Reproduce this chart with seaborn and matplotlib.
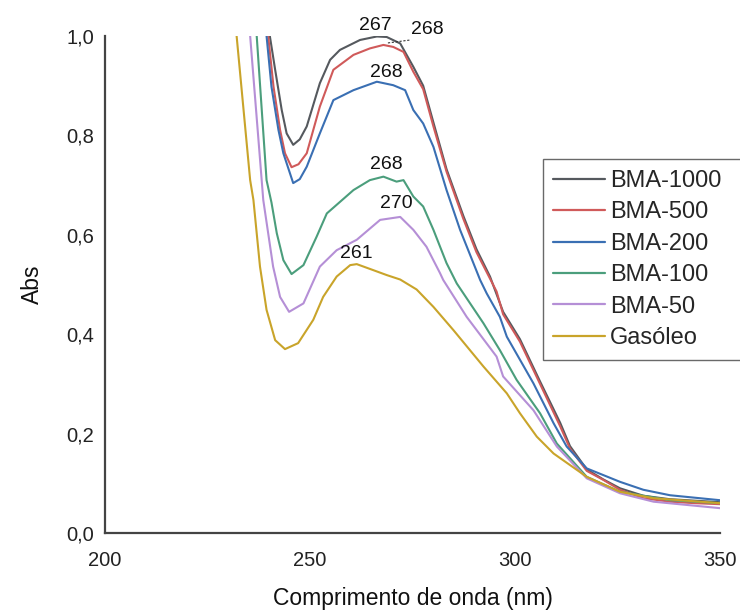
import matplotlib
matplotlib.use("Agg")
import matplotlib.pyplot as plt
from matplotlib.ticker import FuncFormatter, FixedLocator
import seaborn as sns
import pandas as pd

# UV-Vis absorbance spectra (wavelength in nm, absorbance)
wl_bma1000 = [239.9, 240.2, 241.5, 243.1, 244.3, 245.9, 247.5, 249.2, 252.4, 254.9, 257.3,
              262.2, 266.3, 268.7, 272.0, 275.2, 277.6, 280.1, 283.3, 287.4, 290.6, 293.9,
              297.1, 301.2, 306.1, 311.0, 313.4, 317.5, 321.5, 325.6, 331.3, 337.8, 344.0, 350.0]
abs_bma1000 = [1.05, 1.0, 0.932, 0.851, 0.804, 0.781, 0.792, 0.818, 0.905, 0.952, 0.972,
               0.992, 0.999, 0.998, 0.985, 0.938, 0.900, 0.826, 0.732, 0.638, 0.571, 0.516,
               0.445, 0.390, 0.305, 0.222, 0.175, 0.128, 0.108, 0.090, 0.075, 0.068, 0.065, 0.062]

wl_bma500 = [239.5, 239.8, 241.1, 242.7, 243.9, 245.5, 247.2, 249.2, 252.4, 255.7, 260.6,
             264.6, 267.9, 270.3, 272.8, 275.2, 277.6, 280.1, 283.3, 287.4, 290.6, 295.5,
             297.1, 301.2, 306.1, 311.0, 313.4, 317.5, 321.5, 325.6, 331.3, 337.8, 344.0, 350.0]
abs_bma500 = [1.05, 1.0, 0.898, 0.811, 0.764, 0.736, 0.742, 0.764, 0.858, 0.932, 0.962,
              0.975, 0.982, 0.978, 0.968, 0.928, 0.893, 0.818, 0.727, 0.632, 0.565, 0.486,
              0.440, 0.385, 0.300, 0.215, 0.170, 0.125, 0.107, 0.087, 0.070, 0.063, 0.060, 0.058]

wl_bma200 = [239.1, 239.4, 240.6, 242.3, 243.5, 244.7, 245.9, 247.5, 249.2, 252.4, 255.7,
             260.6, 266.3, 270.3, 273.2, 275.2, 277.6, 280.1, 283.3, 286.6, 291.5, 293.1,
             296.3, 298.0, 304.5, 309.4, 312.6, 317.5, 325.6, 331.3, 337.8, 350.0]
abs_bma200 = [1.05, 1.0, 0.898, 0.811, 0.764, 0.734, 0.704, 0.712, 0.737, 0.804, 0.871,
              0.891, 0.908, 0.901, 0.891, 0.851, 0.824, 0.777, 0.690, 0.610, 0.509, 0.482,
              0.435, 0.395, 0.301, 0.221, 0.174, 0.130, 0.103, 0.087, 0.076, 0.066]

wl_bma100 = [236.7, 237.0, 239.4, 240.6, 241.9, 243.5, 245.5, 248.4, 251.6, 254.1, 260.6,
             264.6, 267.9, 271.1, 272.8, 275.2, 277.6, 280.1, 283.3, 285.8, 292.3, 296.3,
             300.4, 306.1, 310.2, 317.5, 325.6, 337.8, 350.0]
abs_bma100 = [1.05, 1.0, 0.710, 0.665, 0.603, 0.549, 0.521, 0.539, 0.596, 0.643, 0.690,
              0.710, 0.717, 0.707, 0.710, 0.677, 0.657, 0.610, 0.543, 0.502, 0.422, 0.368,
              0.308, 0.241, 0.180, 0.113, 0.083, 0.066, 0.060]

wl_bma50 = [235.1, 235.4, 238.6, 241.0, 242.7, 244.9, 248.4, 252.4, 256.5, 261.4, 267.1,
            272.0, 275.2, 278.4, 281.7, 282.5, 288.2, 295.5, 297.1, 304.5, 310.2, 317.5,
            325.6, 333.8, 350.0]
abs_bma50 = [1.05, 1.0, 0.670, 0.536, 0.475, 0.445, 0.462, 0.536, 0.569, 0.590, 0.630,
             0.636, 0.610, 0.576, 0.523, 0.509, 0.435, 0.355, 0.315, 0.247, 0.174, 0.110,
             0.080, 0.063, 0.050]

wl_gasoleo = [231.8, 232.1, 235.4, 236.2, 237.8, 239.4, 241.5, 243.9, 247.1, 250.8, 253.2,
              256.5, 259.8, 261.4, 265.4, 268.7, 272.0, 276.0, 280.1, 285.0, 292.3, 298.0,
              301.2, 305.3, 309.4, 317.5, 325.6, 333.8, 350.0]
abs_gasoleo = [1.05, 1.0, 0.710, 0.670, 0.536, 0.449, 0.388, 0.370, 0.382, 0.429, 0.475,
               0.516, 0.539, 0.541, 0.529, 0.519, 0.510, 0.490, 0.455, 0.408, 0.335, 0.281,
               0.241, 0.194, 0.160, 0.113, 0.083, 0.070, 0.060]

series_names = ["BMA-1000", "BMA-500", "BMA-200", "BMA-100", "BMA-50", "Gasóleo"]
series_colors = ["#55595e", "#d05a5a", "#3a6fb3", "#4b9e7c", "#b58fd6", "#c9a42a"]

# Peak wavelength annotations: (text, x, y)
peak_labels = ["267", "268", "268", "268", "270", "261"]
peak_x = [265.9, 278.7, 268.5, 268.7, 271.0, 261.4]
peak_y = [1.022, 1.013, 0.927, 0.741, 0.663, 0.563]

x_ticks = [200, 250, 300, 350]
y_ticks = [0.0, 0.2, 0.4, 0.6, 0.8, 1.0]

frames = []
for name, wl, ab in zip(series_names,
                        [wl_bma1000, wl_bma500, wl_bma200, wl_bma100, wl_bma50, wl_gasoleo],
                        [abs_bma1000, abs_bma500, abs_bma200, abs_bma100, abs_bma50, abs_gasoleo]):
    frames.append(pd.DataFrame({"wl": wl, "abs": ab, "amostra": name}))
df = pd.concat(frames, ignore_index=True)

sns.set_theme(style="white")
plt.rcParams["font.family"] = ["Liberation Sans", "DejaVu Sans"]

fig = plt.figure(figsize=(7.4, 6.1), dpi=100)
ax = fig.add_axes([0.1419, 0.1262, 0.8311, 0.8148])

sns.lineplot(data=df, x="wl", y="abs", hue="amostra", hue_order=series_names,
             palette=series_colors, estimator=None, sort=False, linewidth=1.5, ax=ax)

ax.set_xlim(200, 350)
ax.set_ylim(0, 1.0)
ax.xaxis.set_major_locator(FixedLocator(x_ticks))
ax.yaxis.set_major_locator(FixedLocator(y_ticks))
ax.yaxis.set_major_formatter(FuncFormatter(lambda v, p: f"{v:.1f}".replace(".", ",")))
ax.tick_params(axis="both", length=0, labelsize=14.5, colors="#222222")
ax.tick_params(axis="x", pad=13)
ax.tick_params(axis="y", pad=8)

for side in ["top", "right"]:
    ax.spines[side].set_visible(False)
for side in ["left", "bottom"]:
    ax.spines[side].set_color("#444444")
    ax.spines[side].set_linewidth(1.6)

ax.set_xlabel("Comprimento de onda (nm)", fontsize=16.5, labelpad=12, color="#111111")
ax.set_ylabel("Abs", fontsize=16.5, labelpad=16, color="#111111")

for txt, px, py in zip(peak_labels, peak_x, peak_y):
    ax.text(px, py, txt, ha="center", va="center", fontsize=14, color="#111111", clip_on=False)

# dashed leader from the BMA-500 maximum to its label
ax.plot([269.0, 274.5], [0.986, 0.992], ls=(0, (2, 1.5)), color="#333333", lw=0.8, clip_on=False)

handles, labels = ax.get_legend_handles_labels()
leg = ax.legend(handles, labels, loc="upper left", mode="expand",
                bbox_to_anchor=(0.7334, 0.4197, 0.275, 0.3192),
                bbox_transform=fig.transFigure, fontsize=17, frameon=True, fancybox=False,
                borderpad=0.45, handlelength=2.2, handletextpad=0.2, labelspacing=0.4,
                borderaxespad=0)
leg.get_frame().set_edgecolor("#444444")
leg.get_frame().set_linewidth(1.0)
for line in leg.get_lines():
    line.set_linewidth(1.6)

fig.savefig("out.png", dpi=100)
